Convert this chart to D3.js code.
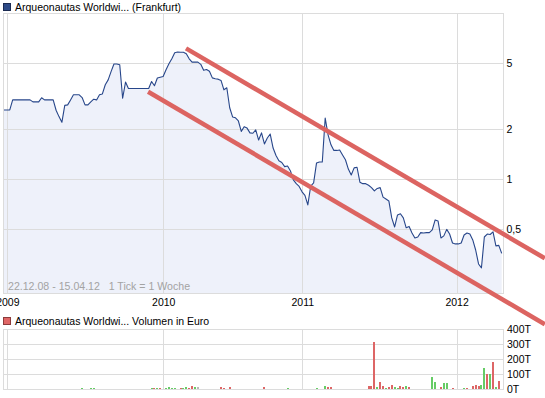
<!DOCTYPE html>
<html>
<head>
<meta charset="utf-8">
<script src="https://cdn.jsdelivr.net/npm/d3@7"></script>
<style>
  body { margin: 0; background: #fff; }
  svg { display: block; font-family: "Liberation Sans", Arial, sans-serif; }
</style>
</head>
<body>
<svg id="chart" width="545" height="398"></svg>
<script>
// weekly closing prices (EUR), one per week from 22.12.08 to 15.04.12
const prices = [
  2.61, 2.61, 2.61, 3.00, 3.00, 3.00, 3.00, 3.00, 3.00, 3.00,
  2.92, 2.92, 2.92, 3.09, 3.00, 3.00, 3.00, 3.00, 2.60, 2.38,
  2.20, 2.78, 2.80, 3.00, 3.22, 3.22, 3.22, 3.10, 2.80, 2.80,
  2.92, 3.03, 3.00, 3.22, 3.26, 3.70, 3.96, 4.44, 4.93, 4.93,
  4.88, 3.07, 3.84, 3.51, 3.51, 3.51, 3.51, 3.51, 3.51, 3.51,
  3.51, 3.87, 3.65, 4.06, 4.11, 4.15, 4.55, 4.95, 5.30, 5.76,
  5.82, 5.80, 5.80, 5.68, 5.30, 5.06, 5.06, 5.06, 4.91, 4.52,
  4.57, 4.46, 4.07, 4.02, 4.00, 3.93, 3.45, 3.55, 2.69, 2.37,
  2.34, 2.24, 1.94, 2.07, 2.03, 1.90, 1.89, 1.98, 1.72, 1.90,
  1.63, 1.77, 1.87, 1.54, 1.39, 1.29, 1.26, 1.19, 1.20, 1.12,
  0.99, 0.94, 0.905, 0.84, 0.80, 0.70, 0.91, 0.95, 1.25, 1.27,
  1.27, 2.33, 1.85, 1.61, 1.49, 1.49, 1.50, 1.40, 1.31, 1.15,
  1.06, 1.17, 1.18, 0.96, 0.94, 0.94, 0.92, 0.89, 0.85, 0.88,
  0.89, 0.78, 0.76, 0.74, 0.585, 0.516, 0.61, 0.62, 0.585, 0.51,
  0.52, 0.475, 0.443, 0.449, 0.477, 0.475, 0.477, 0.477, 0.495, 0.569,
  0.561, 0.443, 0.456, 0.499, 0.468, 0.413, 0.408, 0.408, 0.413, 0.462,
  0.475, 0.468, 0.431, 0.375, 0.309, 0.293, 0.449, 0.468, 0.465, 0.482,
  0.397, 0.40, 0.358
];

// volume (thousand EUR) by week index, u = up week, d = down week, n = unchanged
const volWeeks = [0, 27, 30, 31, 51, 52, 53, 54, 56, 57, 58, 59, 61, 62, 63, 64, 65, 66, 67, 75, 76, 78, 90, 98,
  108, 111, 112, 113, 126, 127, 128, 129, 130, 131, 132, 133, 134, 135, 136, 137, 138, 139, 140,
  148, 149, 151, 152, 153, 155, 159, 160, 162, 163, 164, 165, 166, 167, 168, 169, 170, 171];
const volValues = [3, 7, 7, 7, 7, 7, 7, 7, 7, 11, 7, 7, 7, 7, 11, 7, 18, 11, 11, 11, 7, 11, 11, 7,
  5, 18, 11, 11, 18, 18, 311, 11, 44, 22, 7, 11, 24, 11, 7, 18, 13, 18, 11,
  78, 44, 11, 38, 38, 4, 4, 4, 22, 27, 18, 27, 138, 100, 100, 182, 16, 56];
const volDir = ["n", "u", "u", "u", "u", "d", "u", "d", "u", "u", "u", "u", "d", "u", "u", "d", "d", "u", "n", "d", "d", "d", "d", "u",
  "u", "u", "d", "d", "d", "d", "d", "u", "d", "d", "u", "d", "d", "u", "u", "d", "d", "u", "d",
  "u", "u", "d", "u", "u", "d", "u", "d", "d", "d", "d", "u", "u", "d", "u", "d", "u", "d"];

// axis ticks
const yearTicks = [1.14, 55.04, 103.07, 156.4];
const yearLabels = ["2009", "2010", "2011", "2012"];
const priceTicks = [0.5, 1, 2, 5];
const priceLabels = ["0,5", "1", "2", "5"];
const volTicks = [0, 100, 200, 300, 400];
const volLabels = ["0T", "100T", "200T", "300T", "400T"];

// drawn trend channel: [week, price] end points
const trendLines = [
  [[62.9, 6.13], [186.9, 0.334]],
  [[49.8, 3.36], [186.9, 0.134]]
];

const svg = d3.select("#chart");
const plot = { left: 3, right: 503, top: 13, bottom: 293 };
const vol = { top: 329, bottom: 389 };
const gridColor = "#dcdcdc";

const x = d3.scaleLinear().domain([0, prices.length - 1]).range([4, 501.7]);
const y = d3.scaleLog().domain([0.2067, 10]).range([plot.bottom, plot.top]);
const yv = d3.scaleLinear().domain([0, 400]).range([vol.bottom, vol.top]);
const px = v => Math.round(v) + 0.5;

// titles
function legendTitle(yTop, fill, stroke, text) {
  svg.append("rect")
    .attr("x", 3.5).attr("y", yTop + 0.5)
    .attr("width", 7).attr("height", 7)
    .attr("fill", fill).attr("stroke", stroke);
  svg.append("text")
    .attr("x", 15).attr("y", yTop + 8)
    .style("font-size", "10.5px")
    .attr("fill", "#000")
    .text(text);
}
legendTitle(3, "#2d4a87", "#1b2b52", "Arqueonautas Worldwi... (Frankfurt)");
legendTitle(317, "#e06666", "#8c3b3b", "Arqueonautas Worldwi... Volumen in Euro");

// price area
const area = d3.area()
  .x((d, i) => x(i))
  .y0(plot.bottom)
  .y1(d => y(d));

svg.append("path")
  .datum(prices)
  .attr("fill", "#eef1fa")
  .attr("d", area);

// grid of price panel
const grid = svg.append("g").attr("stroke", gridColor).attr("shape-rendering", "crispEdges");
grid.selectAll(".hy")
  .data(priceTicks)
  .join("line")
  .attr("x1", plot.left).attr("x2", plot.right)
  .attr("y1", d => px(y(d))).attr("y2", d => px(y(d)));
grid.selectAll(".vx")
  .data(yearTicks)
  .join("line")
  .attr("class", "vx")
  .attr("x1", d => px(x(d))).attr("x2", d => px(x(d)))
  .attr("y1", plot.top).attr("y2", plot.bottom);
grid.append("rect")
  .attr("x", plot.left + 0.5).attr("y", plot.top + 0.5)
  .attr("width", plot.right - plot.left).attr("height", plot.bottom - plot.top)
  .attr("fill", "none");

// price line
const line = d3.line()
  .x((d, i) => x(i))
  .y(d => y(d));

svg.append("path")
  .datum(prices)
  .attr("fill", "none")
  .attr("stroke", "#27468a")
  .attr("stroke-width", 1.1)
  .attr("stroke-linejoin", "round")
  .attr("d", line);

// footer note
svg.append("text")
  .attr("x", 8).attr("y", 290)
  .style("font-size", "10.6px")
  .style("white-space", "pre")
  .attr("fill", "#a3a3a3")
  .text("22.12.08 - 15.04.12   1 Tick = 1 Woche");

// axes
const yAxis = d3.axisRight(y)
  .tickValues(priceTicks)
  .tickFormat((d, i) => priceLabels[i])
  .tickSize(0).tickPadding(3.5);

svg.append("g")
  .attr("transform", `translate(${plot.right},0)`)
  .call(yAxis)
  .call(g => g.select(".domain").remove())
  .selectAll("text").style("font-size", "10.5px").attr("fill", "#000")
  .attr("font-family", null);

const xAxis = d3.axisBottom(x)
  .tickValues(yearTicks)
  .tickFormat((d, i) => yearLabels[i])
  .tickSize(0).tickPadding(6);

svg.append("g")
  .attr("transform", `translate(0,${plot.bottom})`)
  .call(xAxis)
  .call(g => g.select(".domain").remove())
  .selectAll("text").style("font-size", "10.5px").attr("fill", "#000")
  .attr("font-family", null);

// volume panel
const vgrid = svg.append("g").attr("stroke", gridColor).attr("shape-rendering", "crispEdges");
vgrid.selectAll(".hv")
  .data(volTicks.slice(1, -1))
  .join("line")
  .attr("x1", plot.left).attr("x2", plot.right)
  .attr("y1", d => px(yv(d))).attr("y2", d => px(yv(d)));
vgrid.selectAll(".vv")
  .data(yearTicks)
  .join("line")
  .attr("class", "vv")
  .attr("x1", d => px(x(d))).attr("x2", d => px(x(d)))
  .attr("y1", vol.top).attr("y2", vol.bottom);
vgrid.append("rect")
  .attr("x", plot.left + 0.5).attr("y", vol.top + 0.5)
  .attr("width", plot.right - plot.left).attr("height", vol.bottom - vol.top)
  .attr("fill", "none");

const volColor = { u: "#66cc66", d: "#dd6666", n: "#bbbbbb" };
svg.append("g")
  .attr("shape-rendering", "crispEdges")
  .selectAll("rect")
  .data(volWeeks.map((w, i) => ({ w, v: volValues[i], dir: volDir[i] })))
  .join("rect")
  .attr("x", d => Math.round(x(d.w)) - 1)
  .attr("width", 2)
  .attr("y", d => yv(d.v))
  .attr("height", d => yv(0) - yv(d.v))
  .attr("fill", d => volColor[d.dir]);

const vAxis = d3.axisRight(yv)
  .tickValues(volTicks)
  .tickFormat((d, i) => volLabels[i])
  .tickSize(0).tickPadding(4);

svg.append("g")
  .attr("transform", `translate(${plot.right},0)`)
  .call(vAxis)
  .call(g => g.select(".domain").remove())
  .selectAll("text").style("font-size", "10.5px").attr("fill", "#000")
  .attr("font-family", null);

// trend channel, drawn over everything
svg.append("g")
  .selectAll("line")
  .data(trendLines)
  .join("line")
  .attr("x1", d => x(d[0][0])).attr("y1", d => y(d[0][1]))
  .attr("x2", d => x(d[1][0])).attr("y2", d => y(d[1][1]))
  .attr("stroke", "#dc6461")
  .attr("stroke-width", 4.5);
</script>
</body>
</html>
